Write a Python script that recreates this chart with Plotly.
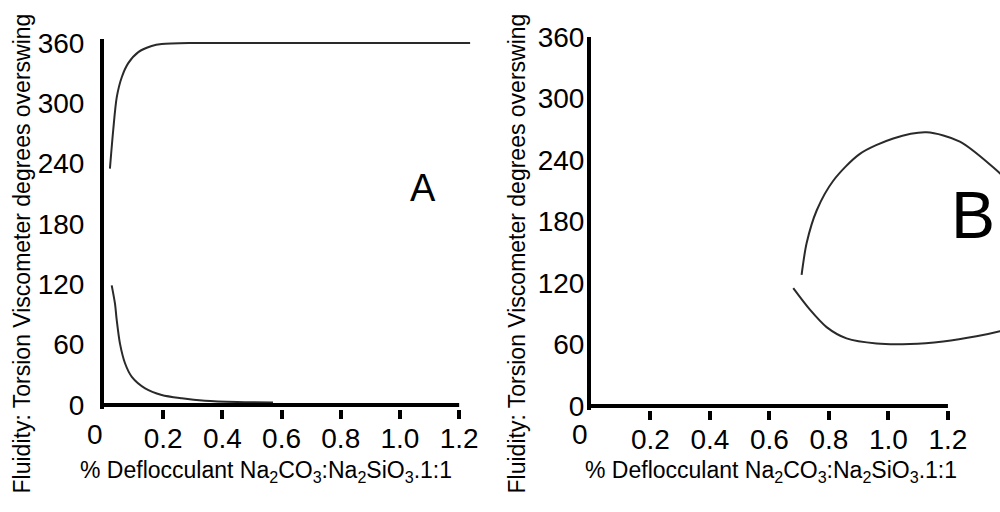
import plotly.graph_objects as go

# ---- data ----
# Panel A: upper curve
a_up_x = [0.020, 0.031, 0.043, 0.060, 0.082, 0.116, 0.161, 0.195, 0.30, 0.60, 0.90, 1.237]
a_up_y = [235, 273, 306, 326, 340, 351, 357, 359, 360, 360, 360, 360]
# Panel A: lower curve
a_lo_x = [0.026, 0.037, 0.043, 0.054, 0.071, 0.094, 0.139, 0.195, 0.263, 0.341, 0.45, 0.571]
a_lo_y = [119, 101, 84.5, 61, 41.5, 28, 16.6, 10, 6.7, 4.3, 3, 2.5]
# Panel B: upper curve
b_up_x = [0.708, 0.725, 0.759, 0.815, 0.904, 1.016, 1.128, 1.240, 1.352, 1.40]
b_up_y = [128, 159, 191, 220, 246, 261, 267, 258, 233, 220]
# Panel B: lower curve
b_lo_x = [0.680, 0.736, 0.792, 0.859, 0.960, 1.072, 1.184, 1.296, 1.375, 1.40]
b_lo_y = [115, 94, 77, 66, 61, 60.5, 63, 68, 73, 75]

x_ticks = [0.2, 0.4, 0.6, 0.8, 1.0, 1.2]
x_tick_text = ["0.2", "0.4", "0.6", "0.8", "1.0", "1.2"]
y_ticks = [0, 60, 120, 180, 240, 300, 360]
y_tick_text = ["0", "60", "120", "180", "240", "300", "360"]

y_title = "Fluidity: Torsion Viscometer degrees overswing"
x_title = "% Deflocculant Na<sub>2</sub>CO<sub>3</sub>:Na<sub>2</sub>SiO<sub>3</sub>.1:1"

FONT = "Liberation Sans, Arial, Helvetica, sans-serif"
TICK_SIZE = 28
CURVE = dict(color="#2a2a2a", width=2, shape="spline", smoothing=0.8)

fig = go.Figure()
fig.add_trace(go.Scatter(x=a_up_x, y=a_up_y, mode="lines", line=CURVE, xaxis="x", yaxis="y", showlegend=False))
fig.add_trace(go.Scatter(x=a_lo_x, y=a_lo_y, mode="lines", line=CURVE, xaxis="x", yaxis="y", showlegend=False))
fig.add_trace(go.Scatter(x=b_up_x, y=b_up_y, mode="lines", line=CURVE, xaxis="x2", yaxis="y2", showlegend=False))
fig.add_trace(go.Scatter(x=b_lo_x, y=b_lo_y, mode="lines", line=CURVE, xaxis="x2", yaxis="y2", showlegend=False))

xax = dict(showgrid=False, zeroline=False, showline=False, automargin=False,
           tickmode="array", tickvals=x_ticks, ticktext=x_tick_text,
           ticks="outside", ticklen=9, tickwidth=4, tickcolor="black",
           ticklabelstandoff=-5,
           tickfont=dict(family=FONT, size=TICK_SIZE, color="black"))
yax = dict(showgrid=False, zeroline=False, showline=True, linecolor="black", linewidth=4,
           automargin=False,
           tickmode="array", tickvals=y_ticks, ticktext=y_tick_text, ticks="",
           tickfont=dict(family=FONT, size=TICK_SIZE, color="black"))

fig.update_layout(
    width=1000, height=512, autosize=False,
    margin=dict(l=0, r=0, t=0, b=0, pad=0),
    paper_bgcolor="white", plot_bgcolor="white",
    xaxis=dict(xax, domain=[0.104, 0.471], range=[0, 1.24], anchor="y"),
    yaxis=dict(yax, domain=[0.2012, 0.9238], range=[-4, 364], anchor="x", ticklabelstandoff=10),
    xaxis2=dict(xax, domain=[0.591, 1.0], range=[0, 1.375], anchor="y2"),
    yaxis2=dict(yax, domain=[0.1990, 0.9277], range=[-4, 360], anchor="x2", ticklabelstandoff=-3),
)

# x axis lines from 0 to 1.2 (axis extent), drawn at y = 0
for xr, yr in (("x", "y"), ("x2", "y2")):
    fig.add_shape(type="line", xref=xr, yref=yr, x0=0, x1=x_ticks[-1], y0=0, y1=0,
                  line=dict(color="black", width=4))

ann = []
# axis titles
for xp in (0.022, 0.517):
    ann.append(dict(text=y_title, x=xp, y=0.505, xref="paper", yref="paper", textangle=-90,
                    showarrow=False, font=dict(family=FONT, size=23, color="black"),
                    xanchor="center", yanchor="middle"))
for xp in (0.266, 0.771):
    ann.append(dict(text=x_title, x=xp, y=0.080, xref="paper", yref="paper",
                    showarrow=False, font=dict(family=FONT, size=23, color="black"),
                    xanchor="center", yanchor="middle"))
# "0" x tick labels
for xp in (0.095, 0.580):
    ann.append(dict(text="0", x=xp, y=0.152, xref="paper", yref="paper", showarrow=False,
                    font=dict(family=FONT, size=TICK_SIZE, color="black"),
                    xanchor="center", yanchor="middle"))
# panel letters
ann.append(dict(text="A", x=0.423, y=0.633, xref="paper", yref="paper", showarrow=False,
                font=dict(family=FONT, size=38, color="black"), xanchor="center", yanchor="middle"))
ann.append(dict(text="B", x=0.973, y=0.580, xref="paper", yref="paper", showarrow=False,
                font=dict(family=FONT, size=66, color="black"), xanchor="center", yanchor="middle"))
fig.update_layout(annotations=ann)

fig.write_html("out.html", config={"responsive": False, "displayModeBar": False},
               post_script="document.body.style.margin='0';document.body.style.overflow='hidden';")
